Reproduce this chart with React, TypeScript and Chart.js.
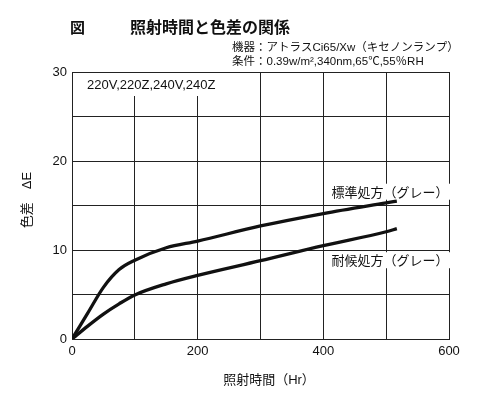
import React, { useEffect, useRef } from "react";
import { Chart, registerables } from "chart.js";

Chart.register(...registerables);

// --- data ---
const hours = [0, 25, 50, 75, 100, 150, 200, 300, 400, 500, 517];
const standardGray = [0, 2.9, 5.8, 7.8, 8.85, 10.25, 11.0, 12.7, 14.1, 15.3, 15.5];
const weatherGray = [0, 1.45, 2.8, 3.95, 4.95, 6.2, 7.15, 8.8, 10.5, 12.05, 12.4];
const seriesNames = ["標準処方（グレー）", "耐候処方（グレー）"];
const yLabelTicks = [0, 10, 20, 30];
const xLabelTicks = [0, 200, 400, 600];

const FONT = "'Liberation Sans', 'Noto Sans CJK JP', sans-serif";
const JFONT = "'Noto Sans CJK JP', 'Liberation Sans', sans-serif";

const textPlugin = {
  id: "texts",
  beforeDatasetsDraw(chart: any) {
    const { ctx } = chart;
    const xs = chart.scales.x;
    const ys = chart.scales.y;
    ctx.save();
    // white boxes behind in-plot labels
    ctx.fillStyle = "#ffffff";
    ctx.fillRect(xs.left + 1, ys.top + 1, 160, 23);
    ctx.font = `13px ${JFONT}`;
    const lx = xs.getPixelForValue(413);
    const ly1 = ys.getPixelForValue(16.55);
    const ly2 = ys.getPixelForValue(8.85);
    const w1 = ctx.measureText(seriesNames[0]).width;
    const w2 = ctx.measureText(seriesNames[1]).width;
    ctx.fillRect(lx - 2, ly1 - 8, w1 + 4, 16);
    ctx.fillRect(lx - 2, ly2 - 8, w2 + 4, 16);

    ctx.fillStyle = "#111";
    ctx.textBaseline = "middle";
    ctx.textAlign = "left";
    ctx.fillText(seriesNames[0], lx, ly1);
    ctx.fillText(seriesNames[1], lx, ly2);

    ctx.font = `13px ${FONT}`;
    ctx.fillText("220V,220Z,240V,240Z", 87, 85);

    // titles
    ctx.font = `bold 15px ${JFONT}`;
    ctx.fillText("図", 70, 27);
    ctx.font = `bold 16px ${JFONT}`;
    ctx.fillText("照射時間と色差の関係", 130, 27);

    ctx.font = `11.5px ${FONT}`;
    ctx.fillText("機器：アトラスCi65/Xw（キセノンランプ）", 232, 48);
    ctx.fillText("条件：0.39w/m²,340nm,65℃,55％RH", 232, 62);

    // axis titles
    ctx.font = `13px ${FONT}`;
    ctx.textAlign = "center";
    ctx.fillText("照射時間（Hr）", 269, 380);
    ctx.save();
    ctx.translate(27, 200);
    ctx.rotate(-Math.PI / 2);
    ctx.fillText("色差　ΔE", 0, 0);
    ctx.restore();
    ctx.restore();
  },
};

export default function App() {
  const ref = useRef<HTMLCanvasElement>(null);
  useEffect(() => {
    if (!ref.current) return;
    const mk = (ys: number[]) => hours.map((h, i) => ({ x: h, y: ys[i] }));
    const line = (label: string, ys: number[]) => ({
      label,
      data: mk(ys),
      showLine: true,
      borderColor: "#111",
      borderWidth: 3.3,
      pointRadius: 0,
      cubicInterpolationMode: "monotone",
    });
    const chart = new Chart(ref.current, {
      type: "scatter",
      data: {
        datasets: [line(seriesNames[0], standardGray), line(seriesNames[1], weatherGray)],
      },
      options: {
        responsive: false,
        animation: false,
        layout: { padding: { left: 0, top: 72, right: 51, bottom: 0 } },
        plugins: { legend: { display: false }, tooltip: { enabled: false } },
        scales: {
          x: {
            type: "linear",
            min: 0,
            max: 600,
            afterFit: (s: any) => {
              s.height = 60;
            },
            grid: { color: "#222", lineWidth: 1, drawTicks: false },
            border: { color: "#222", width: 1 },
            ticks: {
              stepSize: 100,
              autoSkip: false,
              maxRotation: 0,
              padding: 5,
              color: "#111",
              font: { family: FONT, size: 13 },
              callback: (v: any) => (xLabelTicks.includes(Number(v)) ? String(v) : ""),
            },
          },
          y: {
            type: "linear",
            min: 0,
            max: 30,
            afterFit: (s: any) => {
              s.width = 72;
            },
            grid: { color: "#222", lineWidth: 1, drawTicks: false },
            border: { color: "#222", width: 1 },
            ticks: {
              stepSize: 5,
              autoSkip: false,
              padding: 5,
              color: "#111",
              font: { family: FONT, size: 13 },
              callback: (v: any) => (yLabelTicks.includes(Number(v)) ? String(v) : ""),
            },
          },
        },
      },
      plugins: [textPlugin],
    } as any);
    return () => chart.destroy();
  }, []);
  return (
    <div style={{ position: "absolute", left: 0, top: 0, width: 500, height: 399, background: "#fff" }}>
      <canvas ref={ref} width={500} height={399} />
    </div>
  );
}
